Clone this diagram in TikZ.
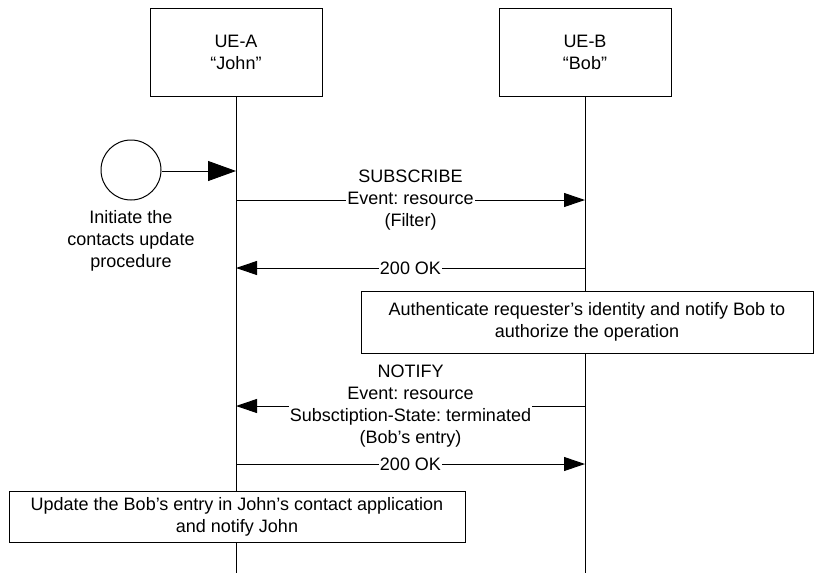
\documentclass[tikz,border=0pt]{standalone}
\usepackage{fontspec}
\setmainfont{Liberation Sans}
\usetikzlibrary{arrows.meta}
\frenchspacing
\begin{document}
\begin{tikzpicture}[x=1pt,y=-1pt,
  font=\fontsize{18}{22}\selectfont,
  line width=1pt,
  ent/.style={draw, fill=white, minimum width=172pt, minimum height=88pt, align=center, inner sep=0pt},
  notebox/.style={draw, fill=white, align=center, inner sep=0pt},
  msg/.style={-{Triangle[length=21pt,width=14pt]}},
  bigmsg/.style={-{Triangle[length=28pt,width=20pt]}},
  lbl/.style={fill=white, align=center, inner xsep=1pt, inner ysep=0pt}]
\useasboundingbox (0,0) rectangle (814,573);
% entities
\node[ent] (ueA) at (236,52) {UE-A\\“John”};
\node[ent] (ueB) at (585,52) {UE-B\\“Bob”};
\coordinate (endA) at (236,573);
\coordinate (endB) at (585,573);
\draw (ueA) -- (endA);
\draw (ueB) -- (endB);
% start
\node[draw, circle, minimum size=60pt, inner sep=0pt] (start) at (131,170) {};
\node[align=center, inner sep=0pt] (initTxt) at (131,241) {Initiate the\\contacts update\\procedure};
\coordinate (inA) at (236,171);
\draw[bigmsg] (start.east |- inA) -- (inA);
% SUBSCRIBE
\coordinate (sA) at (236,200);
\coordinate (sB) at (585,200);
\draw[msg] (sA) -- (sB) node[lbl, midway] (subLbl) {SUBSCRIBE\\Event: resource\\(Filter)};
% 200 OK
\coordinate (o1A) at (236,268);
\coordinate (o1B) at (585,268);
\draw[msg] (o1B) -- (o1A) node[lbl, midway] (ok1) {200 OK};
% auth box
\node[notebox, minimum width=452pt, minimum height=62pt] (auth) at (587,322)
  {Authenticate requester’s identity and notify Bob to\\authorize the operation};
% NOTIFY
\coordinate (nA) at (236,406);
\coordinate (nB) at (585,406);
\draw[msg] (nB) -- (nA) node[lbl, midway] (notLbl) {NOTIFY\\Event: resource\\Subsctiption-State: terminated\\(Bob’s entry)};
% 200 OK
\coordinate (o2A) at (236,464);
\coordinate (o2B) at (585,464);
\draw[msg] (o2A) -- (o2B) node[lbl, midway] (ok2) {200 OK};
% update box
\node[notebox, minimum width=456pt, minimum height=51pt] (upd) at (237,516.5)
  {Update the Bob’s entry in John’s contact application\\and notify John};
\end{tikzpicture}
\end{document}
